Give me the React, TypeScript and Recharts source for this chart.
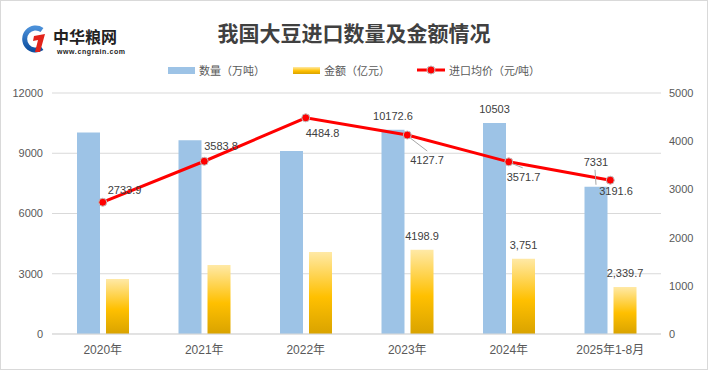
import React from 'react';
import { ComposedChart, Bar, Line, XAxis, YAxis, CartesianGrid, LabelList } from 'recharts';

const years = ['2020年', '2021年', '2022年', '2023年', '2024年', '2025年1-8月'];
const quantity = [10032.7, 9651.8, 9108.1, 10172.6, 10503, 7331];
const amount = [2735, 3431, 4078, 4198.9, 3751, 2339.7];
const price = [2733.9, 3583.8, 4484.8, 4127.7, 3571.7, 3191.6];
const quantityLabels = ['', '', '', '10172.6', '10503', '7331'];
const amountLabels = ['', '', '', '4198.9', '3,751', '2,339.7'];
const leftTicks = [0, 3000, 6000, 9000, 12000];
const rightTicks = [0, 1000, 2000, 3000, 4000, 5000];

const data = years.map((year, i) => ({
  year,
  quantity: quantity[i],
  amount: amount[i],
  price: price[i],
  quantityLabel: quantityLabels[i],
  amountLabel: amountLabels[i],
}));

const FONT = '"Liberation Sans", "Noto Sans CJK SC", sans-serif';
const TEXT = '#404040';
const AXIS_TEXT = '#595959';
const GRID = '#d9d9d9';
const BLUE = '#9DC3E6';
const RED = '#FF0000';

// label placement for the price line, relative to each point
const priceLabelOffsets = [
  { dx: 5, dy: -12 },
  { dx: 0, dy: -15 },
  { dx: 0, dy: 15 },
  { dx: 3, dy: 25 },
  { dx: -2, dy: 15 },
  { dx: -11, dy: 11 },
];

const BarLabel = (props: any) => {
  const { x, y, width, value } = props;
  if (!value) return null;
  const cx = x + width / 2;
  const far = value === '7331';
  return (
    <g>
      {far && <line x1={cx - 1} y1={y - 17} x2={cx} y2={y - 2} stroke="#a6a6a6" strokeWidth={1} />}
      <text x={cx} y={far ? y - 25 : y - 14} textAnchor="middle" dominantBaseline="central"
        fill={TEXT} fontSize={11} fontFamily={FONT}>
        {value}
      </text>
    </g>
  );
};

const PriceLabel = (props: any) => {
  const { x, y, value } = props;
  const i = price.indexOf(value);
  const off = priceLabelOffsets[i] || { dx: 0, dy: -12 };
  return (
    <g>
      {i === 3 && <line x1={x + 3} y1={y + 3} x2={x + 20} y2={y + 16} stroke="#a6a6a6" strokeWidth={1} />}
      {i === 4 && <line x1={x + 4} y1={y + 2} x2={x + 14} y2={y + 6} stroke="#a6a6a6" strokeWidth={1} />}
      <text x={x + off.dx} y={y + off.dy} textAnchor="start" dominantBaseline="central"
        fill={TEXT} fontSize={11} fontFamily={FONT}>
        {value}
      </text>
    </g>
  );
};

const Logo = () => (
  <svg width={110} height={34} style={{ position: 'absolute', left: 20, top: 22 }}>
    <defs>
      <linearGradient id="logoBlue" x1="0" y1="0" x2="0" y2="1">
        <stop offset="0%" stopColor="#4a8fd8" />
        <stop offset="100%" stopColor="#0d4fa0" />
      </linearGradient>
    </defs>
    <path d="M22 8 A11 11 0 1 0 22 26" fill="none" stroke="url(#logoBlue)" strokeWidth={5} />
    <path d="M14 14 L25 12 L20 30 L15 30 L18 18 L13 19 Z" fill="#e2231a" />
    <text x={33} y={21} fontSize={16} fontWeight="bold" fill="#222" fontFamily='"Noto Sans CJK SC", sans-serif'>
      中华粮网
    </text>
    <text x={37} y={32} fontSize={7} fontWeight="bold" fill="#222" fontFamily={FONT} letterSpacing={0.6}>
      www.cngrain.com
    </text>
  </svg>
);

const legendText: React.CSSProperties = { fontSize: 11, color: AXIS_TEXT, marginLeft: 4 };

const ChartLegend = () => (
  <div style={{ position: 'absolute', top: 62, left: 0, width: 708, height: 16, fontFamily: FONT }}>
    <div style={{ position: 'absolute', left: 168, top: 0, display: 'flex', alignItems: 'center', height: 16 }}>
      <div style={{ width: 27, height: 7, background: BLUE }} />
      <span style={legendText}>数量（万吨）</span>
    </div>
    <div style={{ position: 'absolute', left: 293, top: 0, display: 'flex', alignItems: 'center', height: 16 }}>
      <div style={{ width: 27, height: 7, background: 'linear-gradient(#FFE9A6, #FFC000 55%, #D9A300)' }} />
      <span style={legendText}>金额（亿元）</span>
    </div>
    <div style={{ position: 'absolute', left: 417, top: 0, display: 'flex', alignItems: 'center', height: 16 }}>
      <svg width={28} height={10}>
        <line x1={0} y1={5} x2={28} y2={5} stroke={RED} strokeWidth={3} />
        <circle cx={14} cy={5} r={4} fill={RED} stroke="#bfbfbf" strokeWidth={1} />
      </svg>
      <span style={legendText}>进口均价（元/吨）</span>
    </div>
  </div>
);

export default function App() {
  return (
    <div style={{ position: 'relative', width: 708, height: 370, background: '#fff', fontFamily: FONT }}>
      <style>{'body{margin:0}'}</style>
      <Logo />
      <div style={{
        position: 'absolute', top: 22, left: 0, width: 708, textAlign: 'center',
        fontSize: 21, lineHeight: '21px', fontWeight: 'bold', color: TEXT,
        fontFamily: '"Noto Sans CJK SC", sans-serif',
      }}>
        我国大豆进口数量及金额情况
      </div>
      <ChartLegend />
      <ComposedChart width={708} height={370} data={data}
        margin={{ top: 93, right: 0, bottom: 0, left: 0 }} barGap={6}>
        <defs>
          <linearGradient id="goldGrad" x1="0" y1="0" x2="0" y2="1">
            <stop offset="0%" stopColor="#FFE9A6" />
            <stop offset="55%" stopColor="#FFC000" />
            <stop offset="100%" stopColor="#D9A300" />
          </linearGradient>
        </defs>
        <CartesianGrid yAxisId="left" vertical={false} stroke={GRID} />
        <XAxis dataKey="year" height={36} tickLine={false} axisLine={{ stroke: GRID }}
          tick={{ fill: AXIS_TEXT, fontSize: 12, fontFamily: FONT }} tickSize={0} tickMargin={11} />
        <YAxis yAxisId="left" width={52} domain={[0, 12000]} ticks={leftTicks} axisLine={false}
          tickLine={false} tickSize={0} tickMargin={9}
          tick={{ fill: AXIS_TEXT, fontSize: 11, fontFamily: FONT }} />
        <YAxis yAxisId="right" orientation="right" width={47} domain={[0, 5000]} ticks={rightTicks}
          axisLine={false} tickLine={false} tickSize={0} tickMargin={8}
          tick={{ fill: AXIS_TEXT, fontSize: 11, fontFamily: FONT, textAnchor: 'start' }} />
        <Bar yAxisId="left" dataKey="quantity" name="数量（万吨）" fill={BLUE} barSize={23}
          isAnimationActive={false}>
          <LabelList dataKey="quantityLabel" content={BarLabel} />
        </Bar>
        <Bar yAxisId="left" dataKey="amount" name="金额（亿元）" fill="url(#goldGrad)" barSize={23}
          isAnimationActive={false}>
          <LabelList dataKey="amountLabel" content={BarLabel} />
        </Bar>
        <Line yAxisId="right" dataKey="price" name="进口均价（元/吨）" stroke={RED} strokeWidth={3}
          dot={{ r: 4, fill: RED, stroke: '#bfbfbf', strokeWidth: 1 }} isAnimationActive={false}>
          <LabelList dataKey="price" content={PriceLabel} />
        </Line>
      </ComposedChart>
      <div style={{
        position: 'absolute', inset: 0, border: '1px solid #d9d9d9', pointerEvents: 'none',
      }} />
    </div>
  );
}
